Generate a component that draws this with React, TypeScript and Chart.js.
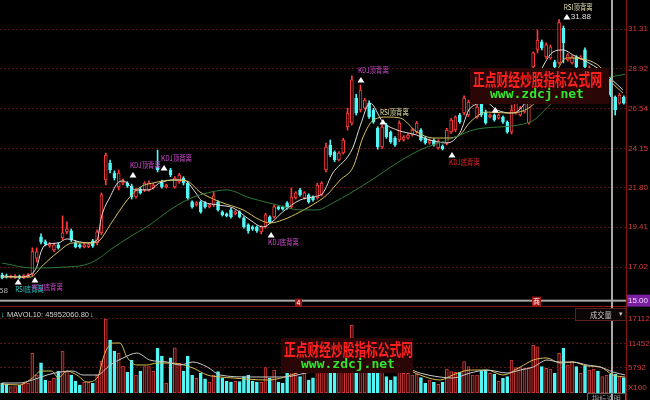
import React, { useEffect, useRef } from 'react';
import { Chart, registerables } from 'chart.js';

Chart.register(...registerables);

// ---------------- data ----------------
const priceTicks = [17.02, 19.41, 21.8, 24.15, 26.54, 28.92, 31.31];
const volumeTicks = [5792, 11452, 17112];
const priceMin = 14.98;
const priceMax = 33.06;
const volumeMax = 21270;
const crosshairPrice = 15.0;
const lowMark = 16.58;
const mavolText = 'MAVOL10: 45952060.80';

const open = [
  16.54, 16.48, 16.42, 16.40, 16.48, 16.38, 16.42, 16.60, 17.56, 18.83,
  18.55, 18.29, 18.05, 18.35, 18.77, 19.13, 19.19, 18.47, 18.35, 18.23,
  18.25, 18.59, 18.47, 19.07, 22.25, 23.27, 22.67, 21.83, 22.07, 22.07,
  21.89, 21.23, 21.71, 21.65, 21.65, 21.77, 23.03, 22.13, 21.83, 22.85,
  21.83, 22.13, 22.37, 22.07, 20.93, 20.75, 20.93, 20.87, 20.63, 20.75,
  20.93, 20.33, 20.21, 20.45, 20.21, 20.33, 19.97, 19.55, 19.43, 19.43,
  19.13, 19.43, 20.03, 20.03, 20.63, 20.60, 20.87, 20.63, 21.17, 21.65,
  21.17, 21.35, 21.23, 21.17, 21.35, 22.85, 24.35, 23.93, 23.45, 23.87,
  25.43, 25.67, 27.17, 26.45, 26.57, 26.87, 26.45, 25.37, 24.23, 25.55,
  25.13, 24.77, 24.65, 24.65, 24.77, 24.95, 25.13, 25.25, 24.77, 24.47,
  24.65, 24.17, 24.29, 24.47, 25.13, 25.25, 26.15, 26.27, 26.15, 26.87,
  26.03, 26.87, 26.33, 26.03, 26.15, 25.97, 26.03, 25.73, 25.13, 26.27,
  26.15, 26.33, 25.67, 29.04, 30.06, 30.54, 29.64, 29.58, 29.34, 29.28,
  31.38, 29.46, 29.28, 29.64, 29.55, 30.06, 28.56, 28.38, 28.86, 28.26,
  28.14, 28.26, 27.23, 26.87, 27.23,
];
const close = [
  16.36, 16.42, 16.48, 16.47, 16.36, 16.50, 16.56, 17.95, 17.93, 18.53,
  18.41, 18.41, 18.35, 18.17, 19.07, 19.31, 18.65, 18.23, 18.23, 18.35,
  18.37, 18.29, 19.13, 21.35, 23.75, 22.85, 22.37, 22.67, 22.19, 21.89,
  21.23, 21.65, 21.47, 22.07, 22.07, 21.95, 22.85, 21.83, 21.95, 22.55,
  22.37, 22.55, 22.07, 21.17, 20.63, 20.87, 20.33, 20.63, 20.75, 21.29,
  20.45, 20.15, 20.09, 20.03, 20.33, 20.03, 19.43, 19.19, 19.31, 19.19,
  19.43, 20.15, 19.73, 20.63, 20.51, 20.50, 20.57, 21.23, 21.47, 21.35,
  21.47, 20.93, 21.05, 21.95, 22.07, 24.23, 23.75, 23.45, 23.87, 24.65,
  26.27, 28.26, 26.27, 27.65, 27.05, 26.03, 25.73, 24.23, 25.43, 24.83,
  24.53, 24.35, 25.67, 24.83, 24.95, 25.25, 25.67, 24.65, 24.47, 24.65,
  24.35, 24.59, 24.11, 25.25, 25.85, 26.03, 25.73, 27.17, 26.93, 27.23,
  26.63, 26.15, 25.67, 26.15, 25.85, 26.15, 25.73, 25.13, 26.45, 26.87,
  26.57, 26.87, 26.87, 29.88, 30.66, 30.18, 30.36, 30.24, 29.04, 31.70,
  30.48, 29.76, 29.64, 29.04, 29.64, 29.04, 28.98, 28.74, 28.38, 28.62,
  28.44, 27.35, 26.45, 27.35, 26.87,
];
const high = [
  16.66, 16.60, 16.54, 16.56, 16.54, 16.56, 16.62, 18.17, 18.17, 19.01,
  18.65, 18.50, 18.45, 18.47, 20.09, 19.73, 19.31, 18.59, 18.41, 18.45,
  18.44, 18.68, 19.25, 21.47, 23.87, 23.45, 22.80, 22.85, 22.30, 22.15,
  22.00, 21.75, 21.80, 22.15, 22.20, 22.05, 24.05, 22.25, 22.00, 22.95,
  22.45, 22.65, 22.45, 22.15, 21.00, 20.95, 21.00, 20.95, 20.82, 21.50,
  21.00, 20.40, 20.27, 20.55, 20.40, 20.40, 20.05, 19.62, 19.50, 19.50,
  19.50, 20.25, 20.10, 20.75, 20.70, 20.68, 20.95, 21.77, 21.55, 21.75,
  21.55, 21.42, 21.30, 22.05, 22.15, 24.47, 24.65, 24.00, 23.95, 24.75,
  26.57, 28.50, 27.40, 27.95, 27.15, 27.00, 26.55, 25.45, 25.55, 25.65,
  25.20, 24.85, 25.80, 24.92, 25.03, 25.35, 25.77, 25.33, 24.85, 24.72,
  24.72, 24.67, 24.36, 25.35, 25.95, 26.10, 26.25, 27.30, 27.05, 27.35,
  26.75, 27.00, 26.45, 26.22, 26.22, 26.22, 26.10, 25.80, 26.75, 26.97,
  26.67, 26.97, 26.97, 29.94, 31.26, 30.66, 30.48, 30.36, 29.45, 31.88,
  31.50, 29.85, 29.72, 29.72, 29.72, 30.18, 29.10, 28.85, 28.95, 28.72,
  28.55, 28.38, 27.30, 27.45, 27.30,
];
const low = [
  16.30, 16.36, 16.36, 16.34, 16.30, 16.32, 16.38, 16.50, 17.32, 18.41,
  18.29, 18.20, 17.95, 18.10, 18.65, 19.01, 18.55, 18.17, 18.15, 18.17,
  18.18, 18.20, 18.35, 18.95, 21.95, 22.67, 22.25, 21.65, 21.95, 21.80,
  21.10, 21.15, 21.40, 21.55, 21.58, 21.70, 22.73, 21.75, 21.77, 22.45,
  21.75, 22.05, 21.95, 21.05, 20.55, 20.68, 20.25, 20.55, 20.57, 20.65,
  20.38, 20.08, 20.03, 19.95, 20.15, 19.97, 19.35, 19.05, 19.22, 19.10,
  19.01, 19.35, 19.65, 19.95, 20.45, 20.44, 20.50, 20.55, 21.10, 21.28,
  21.10, 20.85, 20.98, 21.10, 21.28, 22.73, 23.65, 23.35, 23.40, 23.80,
  25.25, 25.55, 26.15, 26.33, 26.50, 25.95, 25.65, 24.10, 24.15, 24.75,
  24.45, 24.27, 24.55, 24.57, 24.70, 24.88, 25.05, 24.58, 24.40, 24.40,
  24.28, 24.10, 24.05, 24.35, 25.05, 25.15, 25.65, 26.15, 26.05, 26.80,
  25.95, 26.05, 25.60, 25.97, 25.78, 25.90, 25.65, 25.05, 25.01, 26.20,
  26.08, 26.26, 25.60, 28.98, 29.88, 30.06, 29.55, 29.50, 28.95, 29.20,
  29.28, 29.38, 29.20, 28.95, 29.48, 28.86, 28.45, 28.30, 28.30, 28.18,
  28.05, 27.25, 26.15, 26.80, 26.80,
];
const volume = [
  2240, 2000, 1460, 1460, 1850, 2240, 2240, 9170, 4160, 7000,
  3000, 2770, 3390, 5080, 9700, 4930, 4160, 2770, 1850, 2460,
  2460, 2240, 4160, 7390, 17112, 12240, 9700, 9170, 6240, 4770,
  7620, 4160, 5080, 6080, 6080, 5080, 10320, 8550, 2240, 8160,
  10470, 6850, 5080, 8550, 4160, 3390, 4540, 3300, 2540, 4160,
  4930, 3390, 2770, 2460, 2770, 2620, 3770, 4160, 2770, 2460,
  2460, 5850, 3390, 5310, 2460, 2240, 4770, 6500, 7000, 3770,
  5500, 3000, 3500, 7500, 6500, 11000, 9500, 7000, 6000, 8500,
  12000, 15700, 11000, 10000, 8000, 7000, 6500, 8000, 7500, 3770,
  3000, 3770, 4930, 4540, 4540, 4160, 4300, 3540, 2230, 3000,
  2460, 2000, 2460, 5540, 4930, 4770, 4770, 7240, 6080, 4160,
  4160, 5080, 5310, 4540, 4310, 2770, 3390, 3770, 7620, 5850,
  5850, 5700, 5850, 11090, 10700, 6080, 5700, 5540, 4540, 9170,
  10320, 6470, 7240, 6080, 4540, 6310, 5310, 5540, 5080, 3770,
  4160, 4310, 4310, 3770, 3540,
];

// moving-average lines: [candle index, value]
const ma5Line: [number, number][] = [
  [0, 16.48], [4, 16.42], [6, 16.5], [8, 17.02], [9, 17.93], [10, 18.35], [13, 18.47], [15, 18.71],
  [18, 18.53], [20, 18.47], [22, 18.65], [23, 20.03], [25, 21.23], [27, 22.13], [28, 22.19], [31, 21.65],
  [34, 21.65], [36.5, 22.07], [40, 22.25], [42, 22.25], [44.7, 21.53], [46, 21.05], [50, 20.75],
  [53.5, 20.57], [57.4, 19.85], [60.4, 19.43], [62.5, 19.73], [65, 20.33], [69, 21.05], [72, 21.23],
  [74.3, 21.47], [76.6, 22.67], [80, 23.63], [81.3, 24.23], [83, 25.55], [85.2, 26.87], [88.2, 25.73],
  [91.5, 25.25], [96, 24.95], [99, 24.65], [103, 24.47], [106, 25.07], [108.4, 26.57], [112.3, 26.87],
  [114.6, 26.45], [118.3, 26.27], [121.6, 27.05], [125.7, 29.28], [127.6, 29.94], [130, 30.06],
  [132.2, 29.76], [135.5, 29.34], [138.5, 28.86], [141.3, 28.26], [143.8, 27.65],
];
const ma10Line: [number, number][] = [
  [0, 16.42], [6.5, 16.42], [9.5, 17.14], [12.7, 17.87], [16.4, 18.47], [21, 18.47], [22.7, 18.65],
  [25, 19.55], [29, 21.05], [32, 21.83], [35, 22.07], [39.6, 22.25], [42.8, 22.19], [45.8, 21.53],
  [50.5, 20.93], [55.8, 20.45], [59.7, 19.85], [62, 19.67], [65, 19.85], [69, 20.33], [73, 20.93],
  [75.2, 21.35], [78.3, 22.25], [81.3, 23.03], [83.6, 24.83], [86, 25.85], [89.1, 26.03], [92.2, 25.97],
  [96.1, 25.13], [99.8, 24.77], [103, 24.77], [106, 24.95], [108.4, 25.73], [112.3, 26.33], [117, 26.27],
  [122.3, 26.63], [127, 28.08], [130.8, 29.58], [135.5, 29.46], [138.5, 29.04], [141.3, 28.08],
  [143.8, 27.47],
];
const maLongLine: [number, number][] = [
  [0, 17.26], [7, 16.96], [15, 17.02], [19, 17.14], [22, 17.47], [25, 18.05], [30.3, 18.95],
  [34.2, 19.55], [38.2, 20.33], [42.8, 21.05], [47.5, 21.47], [52, 21.65], [57.4, 21.17], [63.7, 20.75],
  [69, 20.45], [72.9, 20.45], [76.6, 20.87], [84.5, 22.07], [92.2, 23.39], [96.8, 24.05], [104.4, 24.77],
  [110, 25.31], [122.3, 25.73], [127.6, 26.93], [131.5, 27.65], [138.5, 28.3], [144.3, 28.6],
];
const volMaWhite: [number, number][] = [
  [0, 2310], [4, 2310], [7, 3000], [10.4, 4160], [13.4, 4850], [16.4, 5080], [18.7, 4160], [22, 4160],
  [25, 6470], [28, 8090], [31.2, 9240], [34.2, 7620], [38.2, 7160], [41.2, 6470], [44.2, 7160],
  [47.5, 6010], [50.5, 4160], [57.4, 3700], [65, 3700], [71.3, 4850], [78.3, 6470], [85.2, 8800],
  [92.2, 6470], [96.8, 4620], [101.4, 3700], [104.4, 3470], [108.4, 4620], [112.3, 5310], [117, 4620],
  [120, 5310], [123, 6010], [126.2, 7620], [129.2, 7160], [132.2, 7160], [135.5, 6470], [138.5, 6010],
  [141.5, 4850], [144.3, 4160],
];
const volMaYellow: [number, number][] = [
  [0, 2080], [4, 1850], [7, 3470], [9, 5080], [11.5, 5080], [13, 3470], [15, 5080], [17.3, 4160],
  [19.7, 2540], [22, 3470], [23.8, 9240], [25.7, 11550], [27.3, 11550], [28.9, 8320], [31.2, 6470],
  [33.5, 6470], [35.9, 6930], [38.9, 6930], [41.2, 6700], [44.2, 5780], [47.5, 4160], [50.5, 3700],
  [53.5, 3470], [61.3, 3000], [69, 4850], [76, 7620], [81.7, 11000], [87.5, 8800], [93.3, 5780],
  [96.8, 4160], [101.4, 3000], [104.4, 4160], [108.4, 5310], [112.3, 5310], [116, 4160], [120, 6010],
  [123, 7620], [126.2, 8090], [129.2, 6930], [132.2, 7160], [135.5, 6240], [138.5, 6010], [141.5, 4160],
  [144.3, 3700],
];

// divergence signals: candle index, price of the marker, text
const signals = [
  { at: 3.7, price: 16.12, text: 'RSI底背离', kind: 'bottom', color: '#2ec4c4' },
  { at: 7.6, price: 16.24, text: 'KDJ底背离', kind: 'bottom', color: '#d24bd2' },
  { at: 30.3, price: 22.55, text: 'KDJ顶背离', kind: 'top', color: '#d24bd2' },
  { at: 37.5, price: 22.97, text: 'KDJ顶背离', kind: 'top', color: '#d24bd2' },
  { at: 62.3, price: 18.95, text: 'KDJ底背离', kind: 'bottom', color: '#d24bd2' },
  { at: 83.1, price: 28.26, text: 'KDJ顶背离', kind: 'top', color: '#d24bd2' },
  { at: 88.2, price: 25.73, text: 'RSI顶背离', kind: 'top', color: '#e2e2a4' },
  { at: 104.2, price: 23.75, text: 'KDJ底背离', kind: 'bottom', color: '#e02424' },
  { at: 114.2, price: 26.45, text: 'RSI顶背离', kind: 'top', color: '#8c8c5a' },
  { at: 130.8, price: 32.04, text: 'RSI顶背离', kind: 'top', color: '#e2e2b4' },
];
const peakSignal = 9;

// ---------------- styles ----------------
const UP = '#ff3c3c';
const DOWN = '#52f6f6';
const VOL_UP = '#d23a3a';
const GRID = '#5a1018';
const AXIS_TXT = '#d43c3c';
const FRAME = '#8a1515';

function squeeze(c: any, text: string, x: number, y: number, sx: number) {
  c.save();
  c.translate(x, y);
  c.scale(sx, 1);
  c.fillText(text, 0, 0);
  c.restore();
}

function watermark(c: any, x: number, y: number, w: number, h: number) {
  c.save();
  c.fillStyle = '#2a0606';
  c.fillRect(x, y, w, h);
  c.fillStyle = '#ff2020';
  c.font = 'bold 17px "Noto Sans CJK SC"';
  c.textBaseline = 'middle';
  c.textAlign = 'left';
  squeeze(c, '正点财经炒股指标公式网', x + 3, y + 12, 0.69);
  c.fillStyle = '#2ee82e';
  c.font = 'bold 13px "DejaVu Sans Mono"';
  c.fillText('www.zdcj.net', x + 20, y + 27);
  c.restore();
}

const overlayPlugin = {
  id: 'overlay',
  beforeDraw(chart: any) {
    const c = chart.ctx;
    c.save();
    c.fillStyle = '#000';
    c.fillRect(0, 0, chart.width, chart.height);
    c.restore();
  },
  afterDraw(chart: any) {
    const c = chart.ctx;
    const xs = chart.scales.x;
    const ys = chart.scales.y;
    const yv = chart.scales.yv;
    const area = chart.chartArea;
    c.save();
    c.textAlign = 'left';
    c.textBaseline = 'middle';

    // signals
    signals.forEach((s, k) => {
      const px = xs.getPixelForValue(s.at);
      const py = ys.getPixelForValue(s.price);
      c.fillStyle = '#ffffff';
      c.beginPath();
      c.moveTo(px, py - 3);
      c.lineTo(px + 3.5, py + 2.5);
      c.lineTo(px - 3.5, py + 2.5);
      c.closePath();
      c.fill();
      c.fillStyle = s.color;
      c.font = '8px "Noto Sans CJK SC"';
      squeeze(c, s.text, px - 3, s.kind === 'top' ? py - 10 : py + 7, 0.8);
      if (k === peakSignal) {
        c.fillStyle = '#e0e0e0';
        c.font = '8px "Liberation Sans"';
        c.fillText(Math.max(...high).toFixed(2), px + 4, py);
      }
    });

    // low value at the left edge
    c.fillStyle = '#b0b0b0';
    c.font = '8px "Liberation Sans"';
    c.textAlign = 'right';
    c.fillText(lowMark.toFixed(2), area.left + 8, ys.getPixelForValue(lowMark) + 16);
    c.textAlign = 'left';

    // watermarks
    const pTop = ys.top;
    watermark(c, 470, pTop + 68, 139, 36);
    watermark(c, 281, yv.top + 37, 132, 35);

    // crosshair + frame
    const yCross = ys.getPixelForValue(crosshairPrice);
    c.fillStyle = '#a8a8a8';
    c.fillRect(0, yCross - 1, area.right, 2);
    c.fillStyle = FRAME;
    c.fillRect(0, yv.top + 5, area.right, 1);
    c.fillRect(area.right, 0, 1, chart.height);
    c.fillStyle = '#a8a8a8';
    c.fillRect(611, 0, 2, chart.height);

    // small markers on the crosshair
    c.fillStyle = '#a01414';
    c.fillRect(295, yCross - 2, 7, 8);
    c.fillRect(532, yCross - 4, 9, 10);
    c.fillStyle = '#ffffff';
    c.font = '7px "Noto Sans CJK SC"';
    c.textAlign = 'center';
    c.fillText('4', 298.5, yCross + 2);
    c.fillText('商', 536.5, yCross + 1);

    // 15.00 label
    c.fillStyle = '#7b1fa2';
    c.fillRect(area.right + 1, yCross - 6, 24, 12);
    c.fillStyle = '#f2d8ff';
    c.font = '8px "Liberation Sans"';
    c.textAlign = 'left';
    c.fillText(crosshairPrice.toFixed(2), area.right + 2, yCross);

    // volume pane texts
    c.font = '7.5px "Liberation Sans"';
    c.fillStyle = DOWN;
    c.fillText('↓', 1, yv.top + 14);
    c.fillStyle = '#d0d0d0';
    c.fillText(mavolText, 7, yv.top + 14);
    const tw = c.measureText(mavolText).width;
    c.fillStyle = DOWN;
    c.fillText('↓', 8 + tw, yv.top + 14);

    c.fillStyle = '#0c0606';
    c.fillRect(575, yv.top + 7, area.right - 575, 12);
    c.strokeStyle = '#5c2020';
    c.lineWidth = 1;
    c.strokeRect(575.5, yv.top + 7.5, area.right - 575.5, 12);
    c.fillStyle = '#c8c8c8';
    c.font = '8px "Noto Sans CJK SC"';
    squeeze(c, '成交量', 590, yv.top + 13.5, 0.9);
    c.font = '7px "DejaVu Sans"';
    c.fillText('▾', 619, yv.top + 13);

    c.fillStyle = AXIS_TXT;
    c.font = '8px "Liberation Sans"';
    c.fillText('X100', area.right + 2, yv.bottom - 5);

    c.strokeStyle = '#606060';
    c.strokeRect(587.5, yv.bottom + 0.5, 38, 12);
    c.fillStyle = '#a0a0a0';
    c.font = '8px "Noto Sans CJK SC"';
    c.textBaseline = 'alphabetic';
    squeeze(c, '指标说明', 592, yv.bottom + 9, 0.9);
    c.restore();
  },
};

export default function App() {
  const ref = useRef<HTMLCanvasElement>(null);

  useEffect(() => {
    const canvas = ref.current;
    if (!canvas) return;
    const labels = open.map((_, i) => String(i + 1));
    const up = open.map((o, i) => close[i] >= o);
    const candleColor = up.map((u) => (u ? UP : DOWN));
    const bodyFill = up.map((u) => (u ? '#000000' : DOWN));
    const volBorder = up.map((u) => (u ? VOL_UP : DOWN));
    const volFill = up.map((u) => (u ? '#3c0808' : DOWN));

    const line = (pts: [number, number][], color: string, yAxisID: string) => ({
      type: 'line',
      data: pts.map(([x, y]) => ({ x, y })),
      xAxisID: 'xl',
      yAxisID,
      borderColor: color,
      borderWidth: 1,
      pointRadius: 0,
      cubicInterpolationMode: 'monotone',
      fill: false,
      order: 1,
    });

    const chart = new Chart(canvas, {
      type: 'bar',
      data: {
        labels,
        datasets: [
          {
            type: 'bar',
            data: low.map((l, i) => [l, high[i]]),
            xAxisID: 'x',
            yAxisID: 'y',
            backgroundColor: candleColor,
            barThickness: 1,
            grouped: false,
            order: 6,
          },
          {
            type: 'bar',
            data: open.map((o, i) => [o, close[i]]),
            xAxisID: 'x',
            yAxisID: 'y',
            backgroundColor: bodyFill,
            borderColor: candleColor,
            borderWidth: 1,
            borderSkipped: false,
            barThickness: 3,
            grouped: false,
            order: 5,
          },
          {
            type: 'bar',
            data: volume,
            xAxisID: 'x',
            yAxisID: 'yv',
            backgroundColor: volFill,
            borderColor: volBorder,
            borderWidth: 1,
            borderSkipped: false,
            barThickness: 3,
            grouped: false,
            order: 5,
          },
          line(maLongLine, '#2f7a35', 'y'),
          line(ma10Line, '#d8c060', 'y'),
          line(ma5Line, '#dcdcdc', 'y'),
          line(volMaWhite, '#c8c8c8', 'yv'),
          line(volMaYellow, '#d4bc50', 'yv'),
        ] as any,
      },
      options: {
        animation: false,
        responsive: false,
        maintainAspectRatio: false,
        devicePixelRatio: 1,
        events: [],
        layout: { padding: { left: 0, right: 0, top: 0, bottom: 7 } },
        plugins: { legend: { display: false }, tooltip: { enabled: false } },
        scales: {
          x: { type: 'category', offset: true, display: false, grid: { display: false } },
          xl: {
            type: 'linear',
            min: -0.5,
            max: 144.5,
            offset: false,
            grace: 0,
            display: false,
            bounds: 'data',
            grid: { offset: false, display: false },
          },
          y: {
            type: 'linear',
            position: 'right',
            stack: 'pane',
            stackWeight: 301,
            min: priceMin,
            max: priceMax,
            bounds: 'data',
            afterBuildTicks: (s: any) => {
              s.ticks = priceTicks.map((value) => ({ value }));
            },
            afterFit: (s: any) => {
              s.width = 24;
              s.paddingTop = 0;
              s.paddingBottom = 0;
            },
            grid: { color: GRID, lineWidth: 1, drawTicks: false },
            border: { display: false, dash: [2, 2] },
            ticks: {
              color: AXIS_TXT,
              font: { size: 8, family: 'Liberation Sans' },
              padding: 2,
              autoSkip: false,
              callback: (v: any) => Number(v).toFixed(2),
            },
          },
          yv: {
            type: 'linear',
            position: 'right',
            stack: 'pane',
            stackWeight: 92,
            min: 0,
            max: volumeMax,
            bounds: 'data',
            afterBuildTicks: (s: any) => {
              s.ticks = volumeTicks.map((value) => ({ value }));
            },
            afterFit: (s: any) => {
              s.width = 24;
              s.paddingTop = 0;
              s.paddingBottom = 0;
            },
            grid: { color: GRID, lineWidth: 1, drawTicks: false },
            border: { display: false, dash: [2, 2] },
            ticks: {
              color: AXIS_TXT,
              font: { size: 8, family: 'Liberation Sans' },
              padding: 2,
              autoSkip: false,
              callback: (v: any) => String(v),
            },
          },
        } as any,
      },
      plugins: [overlayPlugin],
    });
    return () => chart.destroy();
  }, []);

  return (
    <div style={{ position: 'fixed', left: 0, top: 0, width: 650, height: 400, background: '#000' }}>
      <canvas ref={ref} width={650} height={400} style={{ width: 650, height: 400, display: 'block' }} />
    </div>
  );
}
